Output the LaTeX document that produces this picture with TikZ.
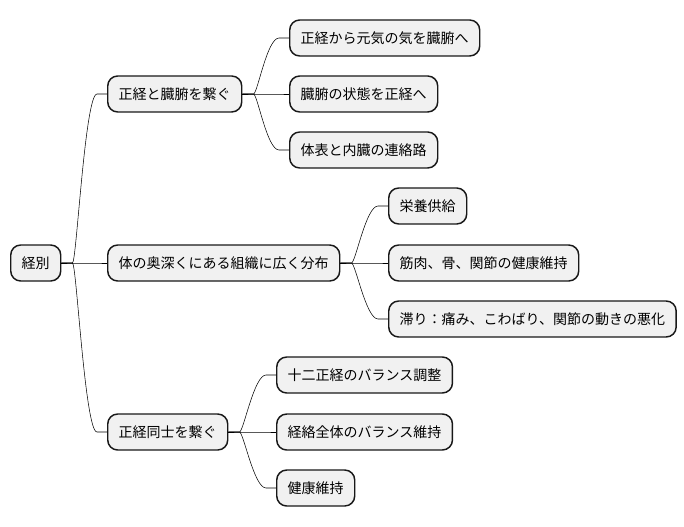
\documentclass[tikz,border=0pt]{standalone}
\usepackage{fontspec}
\newfontfamily\cjk{Noto Sans CJK JP}
\usepackage{xcolor}
\usepackage{tikz}
\usetikzlibrary{calc}

\definecolor{boxfill}{HTML}{F1F1F1}
\definecolor{boxline}{HTML}{181818}

\tikzset{
  topic/.style={draw=boxline, fill=boxfill, line width=1.1pt, rounded corners=7.5pt,
    anchor=west, minimum height=27pt, inner xsep=8.25pt, inner ysep=0pt},
  branch/.style={line width=0.8pt, draw=boxline,
    to path={-- ++(11,0) .. controls +(4,0) and +(-12,0) .. ($(\tikztotarget)+(-10,0)$) -- (\tikztotarget)}}
}

\begin{document}
\begin{tikzpicture}[x=0.75pt, y=-0.75pt, font=\cjk\fontsize{10.5}{12}\selectfont]
  \useasboundingbox (0,0) rectangle (684,527);
  % root
  \node[topic] (root) at (10,263) {経別};
  % first level
  \node[topic] (zf) at (107,94) {正経と臓腑を繋ぐ};
  \node[topic] (deep) at (107,263) {体の奥深くにある組織に広く分布};
  \node[topic] (mutual) at (107,432) {正経同士を繋ぐ};
  % second level
  \node[topic] (zf1) at (289,38) {正経から元気の気を臓腑へ};
  \node[topic] (zf2) at (289,94) {臓腑の状態を正経へ};
  \node[topic] (zf3) at (289,150) {体表と内臓の連絡路};
  \node[topic] (deep1) at (388,206) {栄養供給};
  \node[topic] (deep2) at (388,263) {筋肉、骨、関節の健康維持};
  \node[topic] (deep3) at (388,319) {滞り：痛み、こわばり、関節の動きの悪化};
  \node[topic] (mutual1) at (276,375) {十二正経のバランス調整};
  \node[topic] (mutual2) at (276,432) {経絡全体のバランス維持};
  \node[topic] (mutual3) at (276,488) {健康維持};
  % connectors
  \foreach \c in {zf, deep, mutual}
    \draw (root.east) to[branch] (\c.west);
  \foreach \p in {zf, deep, mutual}
    \foreach \i in {1,2,3}
      \draw (\p.east) to[branch] (\p\i.west);
\end{tikzpicture}
\end{document}
